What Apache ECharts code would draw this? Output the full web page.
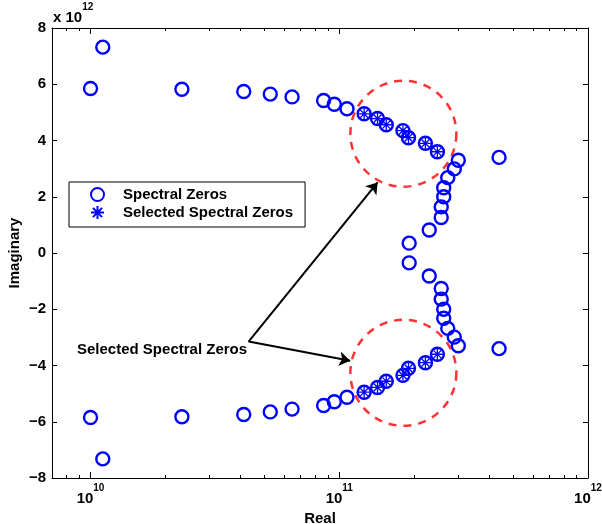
<!DOCTYPE html>
<html>
<head>
<meta charset="utf-8">
<script src="https://cdn.jsdelivr.net/npm/echarts@6/dist/echarts.min.js"></script>
<style>
html, body { margin: 0; padding: 0; background: #fff; }
#main { width: 602px; height: 524px; }
</style>
</head>
<body>
<div id="main"></div>
<script>
// spectral zeros, upper half plane only (lower half = conjugates)
var zeroRe = [1.00e10, 1.12e10, 2.33e10, 4.13e10, 5.28e10, 6.46e10, 8.65e10, 9.55e10, 1.074e11,
    3.01e11, 2.90e11, 2.73e11, 2.63e11, 2.63e11, 2.57e11, 2.57e11, 2.30e11, 1.91e11, 4.39e11];
var zeroIm = [5.85, 7.32, 5.82, 5.74, 5.65, 5.55, 5.42, 5.29, 5.13,
    3.30, 2.99, 2.68, 2.32, 2.00, 1.64, 1.26, 0.82, 0.35, 3.40];
// selected zeros (also drawn as circles)
var selRe = [1.259e11, 1.425e11, 1.545e11, 1.803e11, 1.898e11, 2.22e11, 2.48e11];
var selIm = [4.95, 4.78, 4.56, 4.35, 4.10, 3.90, 3.60];
// dashed rings and arrows (annotation)
var ringRe = [1.81e11, 1.81e11];
var ringIm = [4.24, -4.26];
var arrowFrom = [4.32e10, -3.15];
var arrowTo = [[1.426e11, 2.51], [1.107e11, -3.83]];
// tick values
var xMajor = [1e10, 1e11, 1e12];
var xMinor = [8e9, 9e9, 2e10, 3e10, 4e10, 5e10, 6e10, 7e10, 8e10, 9e10,
    2e11, 3e11, 4e11, 5e11, 6e11, 7e11, 8e11, 9e11];
var xMin = 7e9, xMax = 1e12;

var FONT = 'Liberation Sans';
var BLUE = '#0000ff';
var starPath = 'path://M0,-10L0,10M-10,0L10,0M-7.07,-7.07L7.07,7.07M-7.07,7.07L7.07,-7.07';

var circles = [];
var stars = [];
var allRe = zeroRe.concat(selRe);
var allIm = zeroIm.concat(selIm);
for (var i = 0; i < allRe.length; i++) {
    circles.push([allRe[i], allIm[i]]);
    circles.push([allRe[i], -allIm[i]]);
}
for (var i = 0; i < selRe.length; i++) {
    stars.push([selRe[i], selIm[i]]);
    stars.push([selRe[i], -selIm[i]]);
}
var rings = [];
for (var i = 0; i < ringRe.length; i++) rings.push([ringRe[i], ringIm[i]]);
var arrows = [];
for (var i = 0; i < arrowTo.length; i++) {
    arrows.push([{ coord: arrowFrom }, { coord: arrowTo[i] }]);
}

function xAx(pos, ticks, len, labels, line) {
    return {
        type: 'log', logBase: 10, position: pos, min: xMin, max: xMax,
        axisLine: { show: line, onZero: false, lineStyle: { color: '#000', width: 1 } },
        axisTick: { show: true, inside: true, length: len, customValues: ticks,
            lineStyle: { color: '#000', width: 1 } },
        axisLabel: labels ? {
            customValues: xMajor, margin: 5,
            formatter: function (v) {
                return '{b|10}{s|' + Math.round(Math.log10(v)) + '}';
            },
            rich: {
                b: { fontFamily: FONT, fontWeight: 'bold', fontSize: 15, color: '#000', verticalAlign: 'bottom', padding: [8, 0, 0, 0] },
                s: { fontFamily: FONT, fontWeight: 'bold', fontSize: 10, color: '#000', verticalAlign: 'top' }
            }
        } : { show: false },
        splitLine: { show: false }
    };
}
function yAx(pos, labels) {
    return {
        type: 'value', position: pos, min: -8, max: 8, interval: 2,
        axisLine: { show: true, onZero: false, lineStyle: { color: '#000', width: 1 } },
        axisTick: { show: true, inside: true, length: 5, lineStyle: { color: '#000', width: 1 } },
        axisLabel: labels ? {
            margin: 6, fontFamily: FONT, fontWeight: 'bold', fontSize: 15, color: '#000',
            formatter: function (v) { return v < 0 ? '\u2212' + (-v) : '' + v; }
        } : { show: false },
        splitLine: { show: false }
    };
}

var xAxes = [xAx('bottom', xMajor, 6, true, true), xAx('bottom', xMinor, 3, false, false),
    xAx('top', xMajor, 6, false, true), xAx('top', xMinor, 3, false, false)];
xAxes[0].name = 'Real';
xAxes[0].nameLocation = 'middle';
xAxes[0].nameGap = 29;
xAxes[0].nameTextStyle = { fontFamily: FONT, fontWeight: 'bold', fontSize: 15, color: '#000' };
var yAxes = [yAx('left', true), yAx('right', false)];
yAxes[0].name = 'Imaginary';
yAxes[0].nameLocation = 'middle';
yAxes[0].nameGap = 30;
yAxes[0].nameMoveOverlap = false;
yAxes[0].nameTextStyle = { fontFamily: FONT, fontWeight: 'bold', fontSize: 15, color: '#000' };

var myChart = echarts.init(document.getElementById('main'));
var option = {
    animation: false,
    backgroundColor: '#fff',
    grid: { left: 52, right: 14, top: 28, bottom: 46, outerBoundsMode: 'none', containLabel: false },
    xAxis: xAxes,
    yAxis: yAxes,
    legend: {
        orient: 'vertical', left: 69, top: 182,
        padding: [5, 12, 7, 21], itemGap: 3, itemWidth: 41, itemHeight: 13,
        borderColor: '#000', borderWidth: 1, backgroundColor: '#fff',
        selectedMode: false,
        textStyle: { fontFamily: FONT, fontWeight: 'bold', fontSize: 15, color: '#000' },
        data: ['Spectral Zeros', 'Selected Spectral Zeros']
    },
    graphic: [
        {
            type: 'text', left: 53, top: 2,
            style: {
                text: '{b|x 10}{s|12}',
                rich: {
                    b: { fontFamily: FONT, fontWeight: 'bold', fontSize: 15, fill: '#000', verticalAlign: 'bottom', padding: [8, 0, 0, 0] },
                    s: { fontFamily: FONT, fontWeight: 'bold', fontSize: 10, fill: '#000', verticalAlign: 'top' }
                }
            }
        },
        {
            type: 'text', left: 77, top: 342,
            style: { text: 'Selected Spectral Zeros', fontFamily: FONT, fontWeight: 'bold', fontSize: 15, fill: '#000' }
        }
    ],
    series: [
        {
            name: 'rings', type: 'scatter', data: rings, symbol: 'circle', symbolSize: 106,
            silent: true, z: 1,
            itemStyle: { color: 'rgba(0,0,0,0)', borderColor: '#ff0000', borderWidth: 2.5, borderType: [8, 7] },
            markLine: {
                silent: true, symbol: ['none', 'arrow'], symbolSize: 11,
                label: { show: false },
                lineStyle: { color: '#000', width: 2, type: 'solid' },
                data: arrows
            }
        },
        {
            name: 'Spectral Zeros', type: 'scatter', data: circles, symbol: 'circle', symbolSize: 13,
            z: 3,
            itemStyle: { color: 'rgba(0,0,0,0)', borderColor: BLUE, borderWidth: 2.4, opacity: 1 }
        },
        {
            name: 'Selected Spectral Zeros', type: 'scatter', data: stars, symbol: starPath, symbolSize: 11,
            symbolKeepAspect: true, z: 4,
            itemStyle: { color: 'rgba(0,0,0,0)', borderColor: BLUE, borderWidth: 1.3, opacity: 1 }
        }
    ]
};
myChart.setOption(option);
</script>
</body>
</html>
